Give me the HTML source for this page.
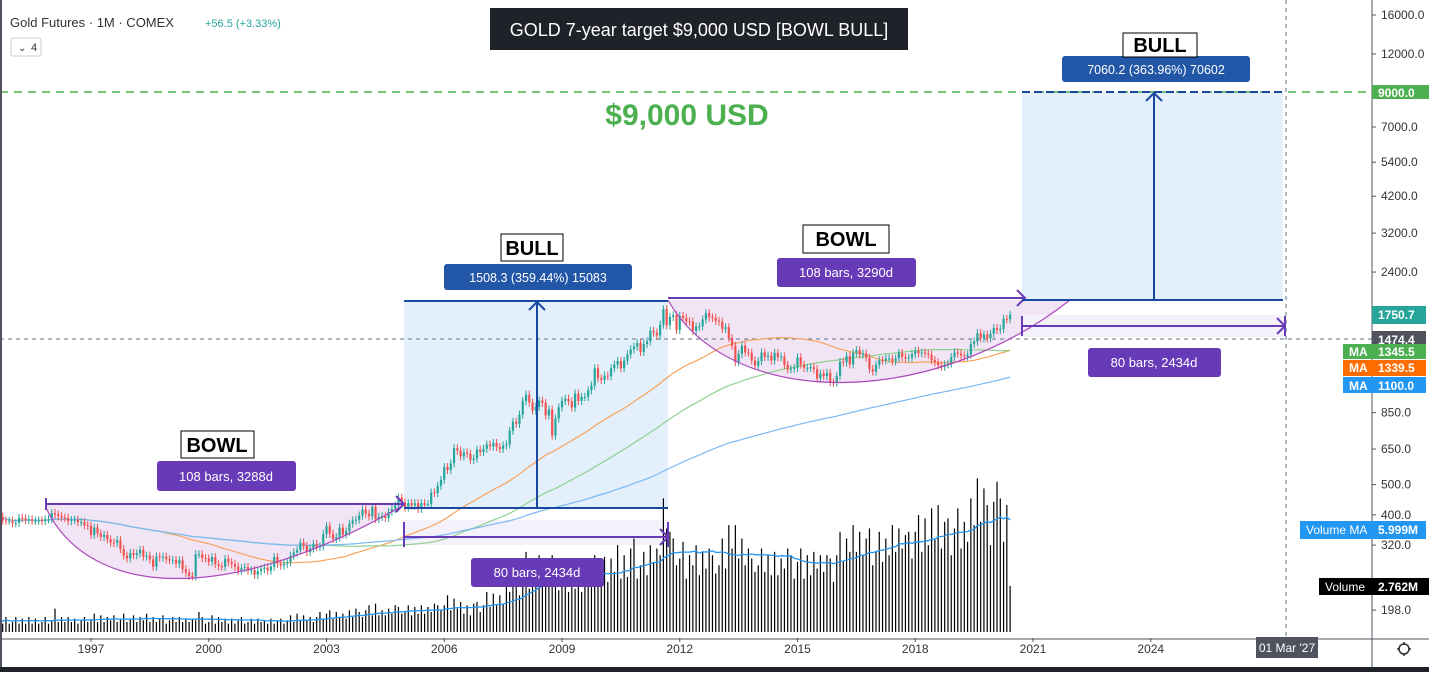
<!DOCTYPE html>
<html><head><meta charset="utf-8">
<style>
html,body{margin:0;padding:0;background:#fff;}
body{width:1429px;height:672px;overflow:hidden;font-family:"Liberation Sans",sans-serif;}
svg text{font-family:"Liberation Sans",sans-serif;}
</style></head>
<body>
<svg id="chart" width="1429" height="672" xmlns="http://www.w3.org/2000/svg">
<rect x="0" y="0" width="1429" height="672" fill="#fff"/>
<g id="drawBack">
<path d="M46,508 C90,600 230,605 404,505 L46,505 Z" fill="#f1e4f5"/>
<rect x="404" y="301" width="264" height="207" fill="#e3effb"/>
<rect x="404" y="520" width="264" height="25" fill="#f5f1fa"/>
<path d="M668,300 C730,410 930,410 1070,300 Z" fill="#f1e4f5"/>
<rect x="1022" y="92" width="261" height="208" fill="#e3effb"/>
<rect x="1022" y="315" width="263" height="22" fill="#f5f1fa"/>
<line x1="0" y1="92" x2="1372" y2="92" stroke="#4caf50" stroke-width="1.5" stroke-dasharray="8,6"/>
<line x1="0" y1="339" x2="1372" y2="339" stroke="#5d7080" stroke-width="1" stroke-dasharray="4,4"/>
<line x1="1286" y1="0" x2="1286" y2="640" stroke="#5d7080" stroke-width="1" stroke-dasharray="4,4"/>
</g>
<g id="vol"></g>
<g id="mas"></g>
<g id="candles"></g>
<g id="drawFront">
<g>
<path d="M46,508 C90,600 230,605 404,505" fill="none" stroke="#ab47bc" stroke-width="1.2"/>
<line x1="46" y1="504" x2="404" y2="504" stroke="#673ab7" stroke-width="2"/>
<line x1="46" y1="498" x2="46" y2="510" stroke="#673ab7" stroke-width="2"/>
<polyline points="396,496 404,504 396,512" fill="none" stroke="#673ab7" stroke-width="2"/>
</g>
<g>
<line x1="404" y1="301" x2="668" y2="301" stroke="#1848a0" stroke-width="2"/>
<line x1="404" y1="508" x2="668" y2="508" stroke="#1848a0" stroke-width="2"/>
<line x1="537" y1="508" x2="537" y2="302" stroke="#1848a0" stroke-width="2"/>
<polyline points="529,310 537,302 545,310" fill="none" stroke="#1848a0" stroke-width="2"/>
</g>
<g>
<line x1="404" y1="537" x2="668" y2="537" stroke="#673ab7" stroke-width="2"/>
<line x1="404" y1="522" x2="404" y2="547" stroke="#673ab7" stroke-width="2"/>
<line x1="668" y1="522" x2="668" y2="547" stroke="#673ab7" stroke-width="2"/>
<polyline points="660,529 668,537 660,545" fill="none" stroke="#673ab7" stroke-width="2"/>
</g>
<g>
<path d="M668,300 C730,410 930,410 1070,300" fill="none" stroke="#ab47bc" stroke-width="1.2"/>
<line x1="668" y1="298" x2="1025" y2="298" stroke="#673ab7" stroke-width="2"/>
<polyline points="1017,290 1025,298 1017,306" fill="none" stroke="#673ab7" stroke-width="2"/>
</g>
<g>
<line x1="1022" y1="92" x2="1283" y2="92" stroke="#1848a0" stroke-width="2" stroke-dasharray="8,4"/>
<line x1="1022" y1="300" x2="1283" y2="300" stroke="#1848a0" stroke-width="2"/>
<line x1="1154" y1="300" x2="1154" y2="93" stroke="#1848a0" stroke-width="2"/>
<polyline points="1146,101 1154,93 1162,101" fill="none" stroke="#1848a0" stroke-width="2"/>
</g>
<g>
<line x1="1022" y1="326" x2="1285" y2="326" stroke="#673ab7" stroke-width="2"/>
<line x1="1022" y1="316" x2="1022" y2="336" stroke="#673ab7" stroke-width="2"/>
<line x1="1285" y1="316" x2="1285" y2="336" stroke="#673ab7" stroke-width="2"/>
<polyline points="1277,318 1285,326 1277,334" fill="none" stroke="#673ab7" stroke-width="2"/>
</g>

<rect x="157" y="461" width="139" height="30" rx="3" fill="#673ab7"/>
<text x="226" y="481" font-size="13" fill="#fff" text-anchor="middle">108 bars, 3288d</text>
<rect x="181" y="431" width="73" height="27" fill="#fff" stroke="#000"/>
<text x="217" y="452" font-size="20" font-weight="bold" fill="#000" text-anchor="middle">BOWL</text>
<rect x="471" y="558" width="133" height="29" rx="3" fill="#673ab7"/>
<text x="537" y="577" font-size="13" fill="#fff" text-anchor="middle">80 bars, 2434d</text>
<rect x="444" y="264" width="188" height="26" rx="3" fill="#2257a8"/>
<text x="538" y="282" font-size="12.5" fill="#fff" text-anchor="middle">1508.3 (359.44%) 15083</text>
<rect x="501" y="234" width="62" height="27" fill="#fff" stroke="#000"/>
<text x="532" y="255" font-size="20" font-weight="bold" fill="#000" text-anchor="middle">BULL</text>
<rect x="777" y="258" width="139" height="29" rx="3" fill="#673ab7"/>
<text x="846" y="277" font-size="13" fill="#fff" text-anchor="middle">108 bars, 3290d</text>
<rect x="803" y="225" width="86" height="28" fill="#fff" stroke="#000"/>
<text x="846" y="246" font-size="20" font-weight="bold" fill="#000" text-anchor="middle">BOWL</text>
<rect x="1088" y="348" width="133" height="29" rx="3" fill="#673ab7"/>
<text x="1154" y="367" font-size="13" fill="#fff" text-anchor="middle">80 bars, 2434d</text>
<rect x="1062" y="56" width="188" height="26" rx="3" fill="#2257a8"/>
<text x="1156" y="74" font-size="12.5" fill="#fff" text-anchor="middle">7060.2 (363.96%) 70602</text>
<rect x="1123" y="33" width="74" height="24" fill="#fff" stroke="#000"/>
<text x="1160" y="52" font-size="20" font-weight="bold" fill="#000" text-anchor="middle">BULL</text>
<text x="687" y="125" font-size="30" font-weight="bold" fill="#4caf50" text-anchor="middle">$9,000 USD</text>
<rect x="490" y="8" width="418" height="42" fill="#1f2229"/>
<text x="699" y="36" font-size="18" fill="#fff" text-anchor="middle">GOLD 7-year target $9,000 USD [BOWL BULL]</text>
<text x="10" y="27" font-size="13" fill="#333">Gold Futures · 1M · COMEX</text>
<text x="205" y="27" font-size="11" fill="#26a69a">+56.5 (+3.33%)</text>
<rect x="11" y="38" width="30" height="18" rx="2" fill="#fff" stroke="#ccc"/>
<text x="18" y="51" font-size="10" fill="#333">⌄</text>
<text x="31" y="51" font-size="11" fill="#333">4</text>
</g>
<g id="axes"></g>
<g id="overlay">
<line x1="1372" y1="0" x2="1372" y2="672" stroke="#50535e" stroke-width="1"/>
<line x1="0" y1="639" x2="1429" y2="639" stroke="#50535e" stroke-width="1"/>
<line x1="1" y1="0" x2="1" y2="672" stroke="#50535e" stroke-width="2"/>
<rect x="0" y="667" width="1429" height="5" fill="#1f2229"/>
<g font-size="12" font-weight="bold">
<rect x="1372" y="85" width="57" height="14" fill="#4caf50"/>
<text x="1378" y="97" fill="#fff">9000.0</text>
<rect x="1372" y="306" width="54" height="18" fill="#26a69a"/>
<text x="1378" y="319" fill="#fff">1750.7</text>
<rect x="1372" y="331" width="54" height="17" fill="#50535e"/>
<text x="1378" y="344" fill="#fff">1474.4</text>
<rect x="1343" y="344" width="83" height="15" fill="#4caf50"/>
<text x="1349" y="356" fill="#fff">MA</text><text x="1378" y="356" fill="#fff">1345.5</text>
<rect x="1343" y="360" width="83" height="16" fill="#ff6d00"/>
<text x="1349" y="372" fill="#fff">MA</text><text x="1378" y="372" fill="#fff">1339.5</text>
<rect x="1343" y="377" width="83" height="16" fill="#2196f3"/>
<text x="1349" y="390" fill="#fff">MA</text><text x="1378" y="390" fill="#fff">1100.0</text>
<rect x="1300" y="521" width="126" height="18" fill="#2196f3"/>
<text x="1306" y="534" fill="#fff" font-weight="normal">Volume MA</text><text x="1378" y="534" fill="#fff">5.999M</text>
<rect x="1319" y="578" width="110" height="17" fill="#000"/>
<text x="1325" y="591" fill="#fff" font-weight="normal">Volume</text><text x="1378" y="591" fill="#fff">2.762M</text>
<rect x="1256" y="637" width="62" height="21" fill="#50535e"/>
<text x="1287" y="652" fill="#fff" font-weight="normal" text-anchor="middle">01 Mar '27</text>
</g>
<g>
<circle cx="1404" cy="649" r="5" fill="none" stroke="#333" stroke-width="1.5"/>
<path d="M1404,642 v3 M1404,653 v3 M1397,649 h3 M1408,649 h3" stroke="#333" stroke-width="1.5"/>
</g>
</g>
</svg>
<script>
// ---------- DATA ----------
const startYear = 1994 + 8/12; // Sep 1994
const closes = [
395,384,383,383,
376,377,391,390,385,387,383,383,384,383,387,387,
405,401,396,392,391,382,385,386,379,379,371,369,
345,364,349,340,345,334,326,325,332,311,296,290,
302,297,301,309,294,296,288,273,294,292,294,288,
286,287,279,286,268,261,255,254,299,299,291,290,
283,293,278,274,273,289,282,278,273,265,270,272,
265,266,257,264,268,271,265,273,293,279,275,279,
282,296,303,308,326,318,304,312,323,316,317,347,
368,348,335,339,364,346,354,375,384,386,398,416,
403,396,424,388,394,396,391,409,418,429,454,438,
422,436,428,436,418,436,430,433,472,470,496,518,
569,557,585,654,643,616,634,628,599,606,647,636,
651,672,663,680,660,651,667,673,744,795,783,838,
927,971,917,864,887,930,914,833,870,718,814,884,
928,942,924,883,979,927,955,955,1003,1040,1180,1096,
1083,1118,1113,1180,1213,1245,1181,1248,1307,1358,1384,1421,
1332,1411,1439,1556,1536,1502,1628,1825,1620,1723,1746,1566,
1737,1711,1668,1664,1558,1604,1610,1691,1772,1719,1712,1675,
1664,1578,1596,1476,1393,1234,1312,1395,1327,1323,1250,1202,
1244,1326,1284,1295,1250,1322,1282,1287,1210,1171,1175,1184,
1278,1212,1183,1183,1190,1172,1095,1134,1114,1141,1064,1061,
1116,1238,1233,1291,1214,1322,1349,1307,1316,1277,1173,1152,
1211,1253,1249,1268,1268,1241,1269,1322,1282,1271,1275,1309,
1343,1318,1325,1315,1305,1253,1233,1206,1192,1214,1222,1282,
1325,1316,1298,1285,1306,1413,1437,1529,1472,1514,1472,1523,
1587,1566,1577,1700,1694,1750.7
];
const volumes = [
0.8,0.5,0.9,0.5,
0.6,0.9,0.5,0.8,0.5,0.9,0.5,0.8,0.5,0.6,0.9,0.5,
0.7,1.4,0.6,0.9,0.6,0.9,0.6,0.8,0.5,0.7,0.9,0.6,
0.7,1.1,0.6,1.0,0.6,0.9,0.7,1.0,0.6,0.8,1.1,0.6,
0.8,1.0,0.6,0.9,0.7,1.1,0.6,0.9,0.6,0.8,1.0,0.5,
0.7,0.9,0.6,0.9,0.6,0.8,0.6,0.8,0.7,1.2,0.9,0.5,
0.6,1.0,0.5,0.9,0.6,0.8,0.5,0.8,0.5,0.7,0.9,0.5,
0.6,0.8,0.5,0.8,0.6,0.7,0.5,0.8,0.5,0.7,0.8,0.5,
0.7,1.0,0.6,1.1,0.7,1.0,0.7,0.9,0.6,0.9,1.2,0.8,
1.1,1.3,0.8,1.2,0.9,1.1,0.8,1.3,0.9,1.4,1.2,0.9,
1.3,1.6,1.0,1.7,1.0,1.3,1.0,1.4,1.1,1.6,1.5,1.1,
1.2,1.6,1.0,1.5,1.1,1.6,1.1,1.5,1.2,1.7,1.6,1.3,
1.6,2.2,1.3,2.0,1.4,1.8,1.1,1.6,1.0,1.7,1.8,1.2,
1.6,2.4,1.5,2.3,1.6,2.2,1.7,3.0,2.4,3.2,3.4,2.2,
3.6,4.8,2.6,4.2,3.0,4.6,3.0,4.4,3.4,4.6,3.2,2.5,
2.8,4.0,2.4,3.6,2.6,4.0,2.4,3.8,3.0,4.2,4.6,3.3,
3.6,4.5,3.0,4.4,3.6,5.2,3.2,4.6,3.3,5.0,5.6,3.2,
4.0,4.8,3.4,5.2,4.2,5.0,4.6,8.0,6.2,6.0,5.6,4.0,
4.4,5.4,3.2,4.6,4.0,5.2,3.4,4.8,3.8,5.0,4.6,3.5,
4.0,5.6,3.8,6.4,5.0,6.4,4.4,5.6,4.0,5.0,4.4,3.6,
4.0,5.0,3.6,4.6,3.4,4.8,3.4,4.4,3.8,5.0,4.6,3.2,
4.2,5.0,3.2,4.6,3.4,4.8,3.8,4.6,3.6,4.6,4.4,3.0,
4.6,6.0,4.2,5.6,4.8,6.4,4.8,6.0,4.6,5.6,6.2,4.0,
4.8,6.0,4.2,5.6,4.6,6.4,4.8,6.2,5.0,5.8,6.0,4.4,
6.0,7.0,4.8,6.8,5.2,7.4,5.6,7.6,5.0,6.6,6.8,4.6,
6.2,7.4,5.0,6.6,5.4,8.0,6.4,9.2,6.6,8.6,7.6,5.2,
7.8,9.0,8.0,5.4,7.6,2.76
];
const priceTicks = [16000,12000,7000,5400,4200,3200,2400,850,650,500,400,320,198];
const priceTickLabels = ["16000.0","12000.0","7000.0","5400.0","4200.0","3200.0","2400.0","850.0","650.0","500.0","400.0","320.0","198.0"];
const yearTicks = [1997,2000,2003,2006,2009,2012,2015,2018,2021,2024];
const maPeriods = [50,100,200];
const maColors = ["#f7a35c","#8fd18f","#7ab8f5"];
const volMaPeriod = 20;

const NS="http://www.w3.org/2000/svg";
function xOfT(t){return 91+(t-1997)*39.25;}
function xOfIdx(i){return xOfT(startYear+i/12);}
function yOfP(p){return 15+(Math.log10(16000)-Math.log10(p))*312;}
function yOfV(v){return 632-v*16.7;}
function mk(tag,attrs,parent,text){const e=document.createElementNS(NS,tag);for(const k in attrs)e.setAttribute(k,attrs[k]);if(text!==undefined)e.textContent=text;parent.appendChild(e);return e;}

const gv=document.getElementById('vol');
volumes.forEach((v,i)=>{
  const x=xOfIdx(i);
  const r=mk('rect',{x:x-0.6,y:yOfV(v),width:1.2,height:632-yOfV(v),fill:'#000'},gv);
  
  
});
let vpts=[];
volumes.forEach((v,i)=>{const s=volumes.slice(Math.max(0,i-volMaPeriod+1),i+1);const m=s.reduce((a,b)=>a+b,0)/s.length;vpts.push(xOfIdx(i).toFixed(1)+','+yOfV(m).toFixed(1));});
const vml=mk('polyline',{points:vpts.join(' '),fill:'none',stroke:'#2196f3','stroke-width':1.3},gv);



const gm=document.getElementById('mas');
maPeriods.forEach((p,k)=>{
  let pts=[];
  closes.forEach((c,i)=>{const s=closes.slice(Math.max(0,i-p+1),i+1);const m=s.reduce((a,b)=>a+b,0)/s.length;pts.push(xOfIdx(i).toFixed(1)+','+yOfP(m).toFixed(1));});
  const l=mk('polyline',{points:pts.join(' '),fill:'none',stroke:maColors[k],'stroke-width':1.2},gm);
  
  
});

const gc=document.getElementById('candles');
closes.forEach((c,i)=>{
  const o=i===0?c:closes[i-1];
  const up=c>=o;const col=up?'#26a69a':'#ef5350';
  const hi=Math.max(o,c)*1.03, lo=Math.min(o,c)*0.97;
  const x=xOfIdx(i);
  const w=mk('line',{x1:x,x2:x,y1:yOfP(hi),y2:yOfP(lo),stroke:col,'stroke-width':1},gc);
  
  
  const top=yOfP(Math.max(o,c)),bot=yOfP(Math.min(o,c));
  const b=mk('rect',{x:x-1.1,y:top,width:2.2,height:Math.max(1,bot-top),fill:col},gc);
  
  
});

const ga=document.getElementById('axes');
mk('rect',{x:1372,y:0,width:57,height:672,fill:'#fff'},ga);
priceTicks.forEach((p,i)=>{
  const y=yOfP(p);
  mk('line',{x1:1372,x2:1376,y1:y,y2:y,stroke:'#555'},ga);
  const t=mk('text',{x:1381,y:y+4,'font-size':12,fill:'#333'},ga,priceTickLabels[i]);
  
  
});
yearTicks.forEach(yr=>{
  const x=xOfT(yr);
  mk('line',{x1:x,x2:x,y1:638,y2:642,stroke:'#555'},ga);
  const t=mk('text',{x:x,y:653,'font-size':12,fill:'#333','text-anchor':'middle'},ga,String(yr));
  
  
});
</script>
</body></html>
